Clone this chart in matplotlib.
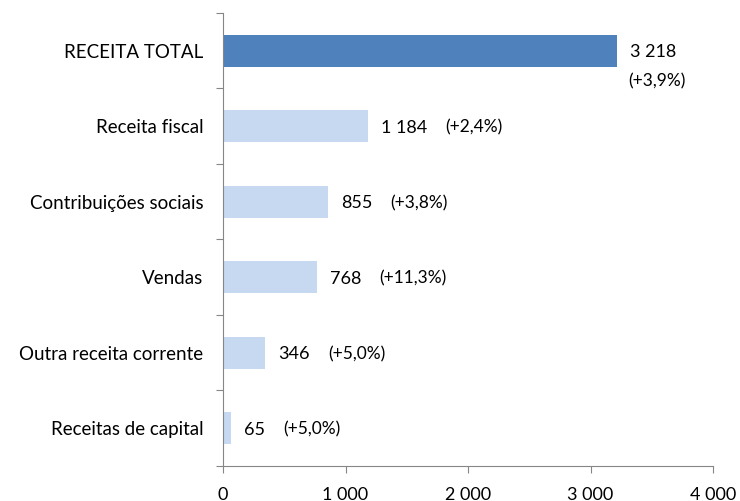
import matplotlib
matplotlib.use("Agg")
import matplotlib.pyplot as plt
import numpy as np

# Receita das Administrações Públicas
categorias = ["RECEITA TOTAL", "Receita fiscal", "Contribuições sociais",
              "Vendas", "Outra receita corrente", "Receitas de capital"]
valores = [3218, 1184, 855, 768, 346, 65]
variacao = ["(+3,9%)", "(+2,4%)", "(+3,8%)", "(+11,3%)", "(+5,0%)", "(+5,0%)"]
xticks = [0, 1000, 2000, 3000, 4000]

plt.rcParams['font.family'] = ['Lato', 'DejaVu Sans']

fig = plt.figure(figsize=(7.4, 5.01), dpi=100)
ax = fig.add_axes([0.3014, 0.0699, 0.6621, 0.9042])

y = np.arange(len(categorias))
cores = ["#4F81BD"] + ["#C6D9F1"] * (len(categorias) - 1)
ax.barh(y, valores, height=0.42, color=cores)

ax.set_xlim(0, 4000)
ax.set_ylim(len(categorias) - 0.5, -0.5)

# rótulos de valor e variação
for i, (v, p) in enumerate(zip(valores, variacao)):
    lab = f"{v:,}".replace(",", " ")
    t = ax.annotate(lab, (v, i), xytext=(9.5, -1), textcoords="offset points",
                    va="center", ha="left", fontsize=13)
    if i == 0:
        ax.annotate(p, (v, i), xytext=(8, -22), textcoords="offset points",
                    va="center", ha="left", fontsize=12.5)
    else:
        ax.annotate(p, (1, 0.5), xycoords=t, xytext=(13, 0), textcoords="offset points",
                    va="center", ha="left", fontsize=12.5)

# eixos
for s in ["top", "right"]:
    ax.spines[s].set_visible(False)
for s in ["left", "bottom"]:
    ax.spines[s].set_color("#868686")

ax.set_xticks(xticks)
ax.set_xticklabels([f"{x:,}".replace(",", " ") for x in xticks], fontsize=13)
ax.tick_params(axis="x", length=5, color="#868686", pad=10)

ax.set_yticks(np.arange(len(categorias) + 1) - 0.5)
ax.set_yticklabels([])
ax.set_yticks(y, minor=True)
ax.set_yticklabels(categorias, minor=True, fontsize=13.5)
ax.tick_params(axis="y", which="major", length=5, color="#868686")
ax.tick_params(axis="y", which="minor", length=0, pad=14)

fig.savefig("out.png", dpi=100)
